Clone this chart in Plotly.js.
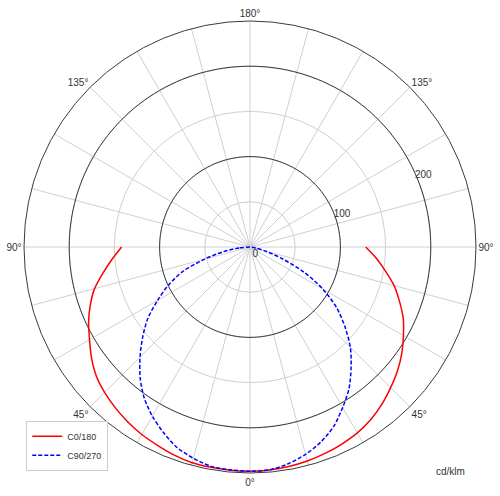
<!DOCTYPE html>
<html>
<head>
<meta charset="utf-8">
<script src="https://cdn.plot.ly/plotly-3.0.1.min.js"></script>
<style>
  html, body { margin: 0; padding: 0; background: #fff; }
  #chart { width: 500px; height: 496px; }
</style>
</head>
<body>
<div id="chart"></div>
<script>
// Gamma angles (degrees from nadir)
const gamma = [0,5,10,15,20,25,30,35,40,45,50,55,60,65,70,75,80,85,90];
// Luminous intensity, cd/klm
const c0   = [248,247.5,246.5,245,243,240.5,237.5,233,227,220,213,205,196,187,176,165,152,140,128];
const c180 = [248,248,247.5,247,245,242,239.5,236,232,227.5,222,214,205,197,188,178,165,153,142];
const c90  = [248,247.5,243.5,237.5,229.5,219,205,191,174,157,137,117,93,66,38,18,7,2,0];
const c270 = [248,247.5,246.5,242,236,226.5,216,204,189,172,155,138,118,99.5,79,52,30,12,0];

const seriesNames = ['C0/180', 'C90/270'];
const radialTickVals = [0, 50, 100, 150, 200];
const radialTickText = ['0', '', '100', '', '200'];
const darkRings = [100, 200];
const unitLabel = 'cd/klm';

// angular ticks every 15°, labelled every 45°
const angTickVals = [];
const angTickText = [];
for (let v = 0; v < 360; v += 15) {
  angTickVals.push(v);
  angTickText.push(v % 45 === 0 ? (v <= 180 ? v : 360 - v) + '°' : '');
}

function plane(right, left) {
  const th = gamma.slice().reverse().map(g => -g).concat(gamma.slice(1));
  const r = left.slice().reverse().concat(right.slice(1));
  return { th, r };
}

const ringTheta = [];
for (let t = 0; t <= 360; t += 2) ringTheta.push(t);

const traces = [];
darkRings.forEach(v => {
  traces.push({
    type: 'scatterpolar', mode: 'lines',
    r: ringTheta.map(() => v), theta: ringTheta,
    line: { color: '#3a3a3a', width: 1 },
    showlegend: false, hoverinfo: 'skip'
  });
});
const p1 = plane(c0, c180);
const p2 = plane(c90, c270);
traces.push({
  type: 'scatterpolar', mode: 'lines', name: seriesNames[0],
  r: p1.r, theta: p1.th,
  line: { color: '#ff0000', width: 1.5, shape: 'spline', smoothing: 0.8 }
});
traces.push({
  type: 'scatterpolar', mode: 'lines', name: seriesNames[1],
  r: p2.r, theta: p2.th,
  line: { color: '#0000ff', width: 1.5, dash: '4px,2px', shape: 'spline', smoothing: 0.8 }
});

const layout = {
  width: 500, height: 496,
  margin: { l: 24, r: 24, t: 21, b: 23 },
  paper_bgcolor: '#ffffff',
  font: { family: 'Liberation Sans, Arial, sans-serif', size: 10, color: '#333' },
  showlegend: true,
  legend: {
    x: 0.005, y: 0.005, xanchor: 'left', yanchor: 'bottom',
    bgcolor: '#ffffff', bordercolor: '#cccccc', borderwidth: 1,
    font: { size: 9, color: '#333' }, itemwidth: 30
  },
  polar: {
    domain: { x: [0, 1], y: [0, 1] },
    bgcolor: '#ffffff',
    radialaxis: {
      range: [0, 250], tickvals: radialTickVals, ticktext: radialTickText,
      angle: 26, tickangle: 26, side: 'clockwise',
      showline: false, ticks: '',
      gridcolor: '#d0d0d0', gridwidth: 1,
      tickfont: { size: 10, color: '#333' }
    },
    angularaxis: {
      rotation: -90, direction: 'counterclockwise',
      tickvals: angTickVals, ticktext: angTickText,
      gridcolor: '#d0d0d0', gridwidth: 1,
      showline: true, linecolor: '#3a3a3a', linewidth: 1,
      ticks: '', tickfont: { size: 10, color: '#333' }
    }
  },
  annotations: [{
    text: unitLabel, xref: 'paper', yref: 'paper',
    x: 0.9425, y: 0.004, xanchor: 'center', yanchor: 'middle',
    showarrow: false, font: { size: 10, color: '#333' }
  }]
};

Plotly.newPlot('chart', traces, layout, { displayModeBar: false, staticPlot: true });
</script>
</body>
</html>
